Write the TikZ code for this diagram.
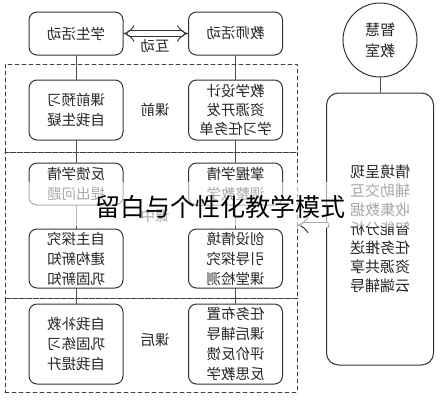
\documentclass[tikz,border=0pt]{standalone}
\usepackage{fontspec}
\newfontfamily\cjk{Noto Sans CJK SC}
\usetikzlibrary{arrows.meta}
\tikzset{
  flip/.style={xscale=-1},
  box/.style={flip, draw=black!80, line width=1pt, rounded corners=8pt, minimum width=94pt, inner sep=0pt, align=center, text=black!85, font=\cjk\fontsize{14.5}{20}\selectfont},
  stage/.style={draw=black!75, line width=0.9pt, dash pattern=on 4pt off 3pt, minimum width=292pt, inner sep=0pt},
  tag/.style={flip, text=black!85, font=\cjk\fontsize{14.5}{18}\selectfont},
  link/.style={draw=black!70, line width=0.7pt},
  hollow/.style={draw=black!80, line width=0.9pt, double=white, double distance=5pt}
}
\begin{document}
\begin{tikzpicture}[x=1pt, y=-1pt, line join=round, line cap=round]
    \useasboundingbox (0,0) rectangle (441,400);
    \node[stage, minimum height=88pt] (pre) at (151,108) {};
    \node[stage, minimum height=146pt] (mid) at (151,225) {};
    \node[stage, minimum height=94pt] (post) at (151,345) {};
    \node[box, minimum height=43pt] (s0) at (76,33.5) {学生活动};
    \node[box, minimum height=43pt] (t0) at (235.5,33.5) {教师活动};
    \node[box, minimum height=60pt] (s1) at (76,110) {课前预习\\自我生疑};
    \node[box, minimum height=60pt, font=\cjk\fontsize{14.5}{19}\selectfont] (t1) at (235.5,110) {教学设计\\资源开发\\学习任务单};
    \node[box, minimum height=42pt] (s2) at (76,184) {反馈学情\\提出问题};
    \node[box, minimum height=42pt] (t2) at (235.5,184) {掌握学情\\调整教学};
    \node[box, minimum height=59pt] (s3) at (76,258.5) {自主探究\\建构新知\\巩固新知};
    \node[box, minimum height=59pt] (t3) at (235.5,258.5) {创设情境\\引导探究\\课堂检测};
    \node[box, minimum height=80pt] (s4) at (76,344) {自我补救\\巩固练习\\自我提升};
    \node[box, minimum height=80pt] (t4) at (235.5,344) {任务布置\\课后辅导\\评价反馈\\反思教学};
    \node[tag] (lint) at (155,46) {互动};
    \node[tag] (lpre) at (155,110) {课前};
    \node[tag] (lmid) at (155,216) {课中};
    \node[tag] (lpost) at (155,340) {课后};
    \node[flip, circle, draw=black!80, line width=1pt, minimum size=74pt, inner sep=0pt, align=center, text=black!85, font=\cjk\fontsize{15}{21}\selectfont] (room) at (380,40) {智慧\\教室};
    \node[box, rounded corners=12pt, minimum width=107pt, minimum height=272pt, font=\cjk\fontsize{15}{19}\selectfont] (cloud) at (380,229) {情境呈现\\辅助交互\\收集数据\\智能分析\\任务推送\\资源共享\\云端辅导};
    \foreach \a/\b in {s0/s1,s1/s2,s2/s3,s3/s4,t0/t1,t1/t2,t2/t3,t3/t4,room/cloud}
        \draw[link] (\a) -- (\b);
    \draw[hollow, {Implies}-{Implies}] (s0) -- (t0);
    \draw[hollow, -{Implies}] (cloud.east |- mid.east) -- (mid.east);
    \fill[white, opacity=0.6] (28,182) rectangle (415,226);
    \node[font=\cjk\fontsize{25}{25}\selectfont] (cap) at (220,207) {留白与个性化教学模式};
\end{tikzpicture}
\end{document}
